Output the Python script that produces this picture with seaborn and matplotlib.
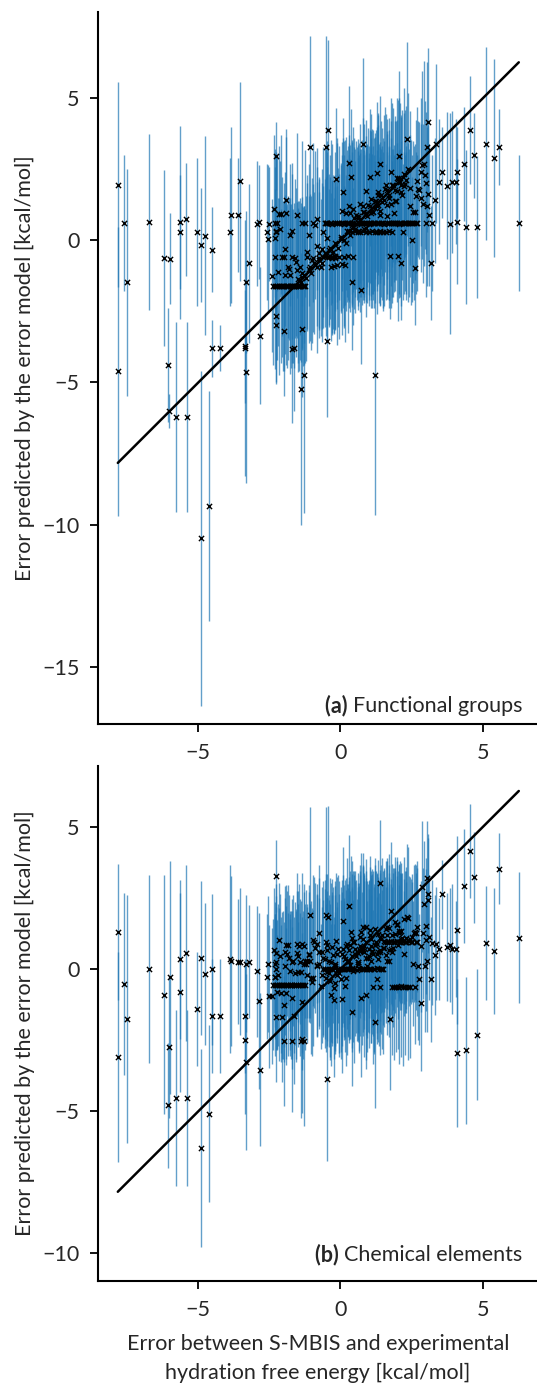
import numpy as np
import matplotlib
matplotlib.use("Agg")
import matplotlib.pyplot as plt
import seaborn as sns

sns.set_style("ticks")
plt.rcParams['font.family'] = ['Lato', 'DejaVu Sans']

# isolated molecules (shared x between both panels)
x_out = [-7.83, -7.83, -7.61, -7.52, -6.73, -6.20, -6.08, -6.02, -5.98, -5.78,
         -5.65, -5.65, -5.45, -5.39, -5.06, -4.90, -4.89, -4.77, -4.64, -4.52,
         -4.52, -4.22, -3.88, -3.84, -3.59, -3.55, -3.35, -3.35, -3.31, -3.31,
         -3.23, -2.95, -2.86, -2.83, -2.57, -2.55, -2.51, -2.28, -2.28, -2.28,
         -2.00, -1.71, -1.35, -1.29, -1.39, -1.65, -1.07, -0.51, -0.45, -0.46,
         -0.16, 0.10, 0.29, 0.36, 0.78, 0.73, 0.41, 0.88, 1.04, 1.23,
         1.30, 1.39, 1.78, 1.75, 2.01, 2.07, 2.13, 2.35, 2.50, 2.63,
         2.83, 2.85, 2.95, 3.05, 3.09, 3.07, 3.01, 3.17, 2.77, 3.36,
         3.32, 3.22, 3.48, 3.58, 3.73, 3.86, 3.92, 4.07, 4.10, 4.10,
         4.33, 4.40, 4.55, 4.69, 4.80, 5.12, 5.40, 5.59, 6.27]
ya_out = [1.96, -4.61, 0.61, -1.47, 0.65, -0.62, -4.38, -6.00, -0.65, -6.21,
          0.64, 0.29, 0.74, -6.21, 0.29, -10.49, -0.15, 0.16, -9.34, -0.33,
          -3.79, -3.79, 0.29, 0.90, 0.90, 2.09, -3.73, -3.79, -4.64, -1.45,
          -0.80, 0.59, 0.65, -3.35, 0.29, 0.06, 0.59, 2.98, -2.67, -2.98,
          -3.18, -3.82, -3.12, -4.75, -5.23, -3.79, 3.29, 3.29, 3.87, -3.53,
          2.15, 1.70, 2.74, 2.22, 3.41, -1.76, -1.45, 1.75, 2.22, -4.75,
          2.36, 2.68, 2.42, -0.56, -0.55, 2.98, -0.80, 3.57, 0.02, -0.96,
          2.40, 2.65, 2.70, 3.29, 4.18, 1.65, 2.02, -0.79, 1.76, 3.41,
          1.42, 0.61, 2.06, 2.40, 1.93, 0.59, 2.06, 2.06, 2.40, 0.65,
          2.70, 0.47, 3.90, 3.00, 0.47, 3.41, 2.90, 3.29, 0.61]
ea_out = [3.6, 5.1, 2.4, 4.0, 3.1, 3.1, 2.0, 0.6, 1.6, 3.35,
          3.4, 2.0, 2.0, 3.35, 2.6, 5.9, 2.0, 3.5, 4.05, 1.5,
          1.0, 0.8, 2.6, 3.1, 2.0, 3.5, 2.0, 4.5, 3.9, 2.5,
          2.8, 2.2, 2.0, 2.4, 2.4, 2.6, 2.0, 1.2, 2.4, 2.0,
          2.3, 2.6, 2.4, 4.85, 4.8, 2.2, 3.9, 3.9, 3.2, 2.7,
          2.5, 2.6, 2.7, 2.4, 3.0, 2.6, 2.4, 2.5, 2.4, 4.9,
          2.5, 2.4, 2.6, 2.2, 2.3, 3.0, 2.0, 3.4, 2.2, 2.0,
          2.6, 3.3, 3.6, 3.0, 2.6, 2.4, 2.5, 2.0, 2.4, 2.8,
          2.2, 2.4, 2.2, 1.6, 2.6, 3.9, 2.5, 2.2, 1.6, 2.2,
          2.0, 2.7, 1.9, 1.5, 2.5, 3.4, 3.5, 1.35, 2.4]
yb_out = [1.30, -3.10, -0.51, -1.75, 0.00, -0.90, -4.79, -2.73, -0.28, -4.52,
          -0.81, 0.35, 0.58, -4.52, -1.39, -6.29, 0.40, -0.16, -5.08, 0.00,
          -1.64, -1.64, 0.36, 0.29, 0.27, 0.27, -1.64, -2.50, -3.27, 0.20,
          0.27, -0.08, -1.13, -3.53, -0.26, 0.18, -0.96, 3.28, -1.68, 0.00,
          -2.53, -2.53, -2.45, -2.53, -2.53, -1.64, 1.90, 1.90, 1.85, -3.86,
          1.00, 1.71, 2.22, 1.30, 1.50, -1.00, -1.50, 1.49, 1.38, -1.87,
          0.90, 3.04, 2.06, -1.75, -0.62, 1.29, 1.08, 1.82, 1.14, -0.62,
          -1.19, 2.90, 2.31, 3.22, 2.66, 2.43, 1.52, -0.35, -0.35, 0.90,
          0.50, 0.93, 0.71, 2.63, 0.79, 0.85, 0.71, 0.71, 1.38, -2.94,
          2.92, -2.86, 4.16, 3.24, -2.30, 0.91, 0.64, 3.54, 1.11]
eb_out = [2.4, 3.7, 3.2, 4.35, 3.3, 4.2, 2.2, 2.5, 4.1, 3.1,
          3.5, 2.8, 3.1, 3.1, 2.0, 3.47, 2.7, 2.5, 3.1, 2.66,
          2.0, 2.0, 3.3, 3.0, 2.2, 2.6, 2.0, 2.6, 3.1, 2.4,
          2.0, 2.3, 3.1, 2.7, 2.2, 2.4, 2.5, 1.25, 2.3, 2.2,
          2.3, 2.5, 2.6, 3.0, 2.7, 2.4, 3.8, 3.8, 3.9, 2.9,
          2.4, 2.6, 2.5, 2.7, 2.6, 2.8, 2.6, 2.4, 2.6, 3.0,
          2.5, 2.2, 2.4, 2.5, 2.2, 2.4, 2.3, 2.6, 2.2, 2.0,
          2.4, 2.3, 2.2, 2.0, 2.1, 2.2, 2.4, 2.2, 2.3, 2.0,
          2.1, 2.2, 1.8, 1.2, 1.9, 2.0, 2.3, 1.7, 3.3, 2.6,
          2.0, 2.6, 1.66, 1.6, 2.3, 2.0, 2.2, 1.25, 2.3]

# dense central cloud
x_cl = [-2.30, -2.24, -2.17, -2.10, -2.04, -1.97, -1.90, -1.83, -1.76, -1.69, -1.62, -1.55, -1.48, -1.41, -1.33, -1.25,
        -0.55, -0.46, -0.38, -0.30, -0.21, -0.12, -0.04, 0.05, 0.14, 0.22, 0.31, 0.40, 0.48, 0.57, 0.66, 0.74, 0.83, 0.92,
        1.00, 1.09, 1.18, 1.27, 1.35, 1.44, 1.53, 1.62, 1.70, 1.79, 1.88, 1.97, 2.05, 2.14, 2.23, 2.32, 2.41, 2.52,
        0.30, 0.40, 0.50, 0.60, 0.70, 0.80, 0.90, 1.00, 1.10, 1.20, 1.30, 1.40, 1.50, 1.60, 1.70, 1.80,
        -0.62, -0.52, -0.42, -0.31, -0.19, -0.04, 0.12, 0.27, 0.45,
        -0.34, -0.24, -0.12, 0.05, 0.17,
        -1.48, -1.38, -1.30, -1.22, -1.12, -1.02, -0.92, -0.84, -0.74, -0.66, -0.56, -0.47, -0.38, -0.28, -0.18, -0.08,
        0.02, 0.12, 0.22, 0.32, 0.42, 0.52, 0.62, 0.72, 0.82, 0.92, 1.02, 1.12, 1.22, 1.32, 1.42, 1.52, 1.62, 1.72,
        1.82, 1.92, 2.02, 2.12, 2.22, 2.32,
        0.05, 0.18, 0.30, 0.45, 0.55, 0.68, 0.80, 0.95, 1.08, 1.20, 1.33, 1.45, 1.58, 1.70, 1.85, 1.98, 2.10, 2.25,
        0.62, 0.90, 1.15, 1.40, 1.65, 1.90,
        -2.34, -2.17, -2.09, -1.92, -1.90, -1.52, -2.24, -2.30, -2.28, -2.29, -2.27, -1.71, -1.35, -1.24, -0.96, -0.84,
        -2.42, -2.31, -2.00, -2.07, -1.83, -1.71, -1.42, -1.36, -1.19, -1.96, -1.76, -0.77, -1.54, -1.07, -0.66, -0.49,
        -0.31,
        1.80, 1.88, 1.96, 2.04, 2.12, 2.20, 2.28, 2.36, 2.44, 1.15, 1.39, 0.90, 1.27,
        2.55, 2.65, 2.72, 2.90, 3.00, 3.12, 2.60, 2.70, 2.97, 3.03,
        -1.18, -1.09, -1.01, -0.88, -0.81, -0.69, -0.62, -0.51, -0.39, -0.32, -0.19, -0.11, 0.01, 0.09, 0.21, 0.28,
        0.41, 0.49, 0.61, 0.68, 0.79, 0.91, 1.01, 1.08, 1.19, 1.31, 1.38, 1.51, 1.59, 1.71, 1.78, 1.91, 1.99, 2.11,
        2.18, 2.31, 2.39, 2.49, 2.61, 2.68,
        -0.95, -0.74, -0.46, -0.24, 0.16, 0.34, 0.66, 0.84, 1.06, 1.24, 1.46, 1.64, 1.86, 2.04, 2.26, 2.44, 2.66, 2.84,
        -1.61, -1.82,
        -2.38, -2.21, -2.13, -2.02, -1.94, -1.87, -1.79, -1.66, -1.58, -1.45, -1.37, -1.27, -2.26, -1.74, -1.50]
ya_cl = [-1.61, -1.60, -1.62, -1.60, -1.59, -1.61, -1.60, -1.62, -1.60, -1.61, -1.59, -1.60, -1.62, -1.60, -1.61, -1.60,
         0.61, 0.60, 0.62, 0.59, 0.61, 0.60, 0.62, 0.61, 0.59, 0.60, 0.62, 0.61, 0.60, 0.59, 0.61, 0.62, 0.60, 0.61,
         0.59, 0.60, 0.62, 0.61, 0.60, 0.61, 0.59, 0.62, 0.60, 0.61, 0.60, 0.62, 0.59, 0.61, 0.60, 0.62, 0.61, 0.60,
         0.32, 0.30, 0.33, 0.31, 0.29, 0.32, 0.31, 0.30, 0.33, 0.31, 0.30, 0.32, 0.31, 0.29, 0.32, 0.30,
         -0.57, -0.56, -0.58, -0.57, -0.56, -0.57, -0.58, -0.56, -0.57,
         -0.93, -0.90, -0.88, -0.83, -0.86,
         -1.35, -1.47, -1.20, -1.33, -1.02, -1.15, -0.80, -0.95, -0.68, -0.79, -0.45, -0.60, -0.28, -0.40, -0.10, -0.25,
         0.12, 0.00, 0.35, 0.18, 0.55, 0.40, 0.78, 0.62, 1.00, 0.85, 1.20, 1.02, 1.38, 1.25, 1.60, 1.42, 1.78, 1.60,
         1.95, 1.78, 2.15, 1.96, 2.35, 2.12,
         1.05, 0.95, 1.20, 1.10, 0.90, 1.30, 1.00, 1.25, 1.45, 1.15, 1.60, 1.35, 1.80, 1.50, 1.95, 1.75, 2.05, 1.90,
         0.85, 0.98, 1.00, 1.05, 1.25, 1.40,
         1.11, 0.92, 0.92, 1.42, 0.95, 0.88, 0.62, 0.61, 0.31, 0.08, 0.33, 0.33, 0.61, 0.60, 0.62, 0.76,
         -1.24, -0.59, -0.59, -0.57, -0.92, -0.57, -0.92, -1.16, -0.57, -1.20, -1.20, -0.45, -1.05, -0.95, -0.30, 0.62,
         -0.62,
         0.62, 0.95, 1.40, 0.60, 1.70, 0.30, 2.00, 0.62, 1.20, 0.62, 0.90, 0.45, 1.20,
         1.00, 1.55, 1.80, 1.30, 0.62, 0.90, 0.62, 0.62, 2.30, 1.20,
         -0.40, 0.20, -0.70, 0.55, -0.20, -0.95, 0.30, 0.62, -0.35, 0.62, -0.62, 0.62, 0.05, 0.62, -0.10, 0.62,
         0.62, 0.80, 0.35, 0.62, 1.20, 0.62, 0.62, 0.95, 0.62, 1.70, 0.30, 0.62, 1.95, 0.62, 1.30, 0.62, 2.20, 0.62,
         1.60, 0.62, 2.50, 0.62, 1.00, 2.10,
         -0.62, -0.62, 0.10, -0.55, 0.62, 0.95, 0.62, 0.40, 0.62, 1.40, 0.62, 0.85, 0.62, 2.20, 0.62, 1.85, 0.62, 1.50,
         -0.62, -1.00,
         -1.60, -1.10, 0.40, -1.60, -0.30, -1.60, 0.20, -1.60, -0.75, -1.60, -1.30, -1.60, -1.60, -1.60, -1.60]
ea_cl = [2.9, 2.6, 3.1, 2.7, 2.5, 3.0, 2.8, 2.6, 3.1, 2.7, 2.9, 2.5, 3.0, 2.6, 2.8, 2.7,
         2.6, 2.9, 2.4, 2.8, 2.5, 3.0, 2.7, 2.4, 2.9, 2.6, 2.8, 2.5, 3.0, 2.7, 2.4, 2.9, 2.6, 2.8,
         2.5, 2.7, 3.0, 2.4, 2.8, 2.6, 2.9, 2.5, 2.7, 3.0, 2.4, 2.8, 2.6, 2.9, 2.5, 2.7, 2.6, 2.4,
         2.7, 2.5, 2.9, 2.6, 2.8, 2.4, 3.0, 2.6, 2.7, 2.5, 2.9, 2.6, 2.8, 2.4, 2.7, 2.5,
         2.5, 2.8, 2.4, 2.7, 2.6, 2.9, 2.5, 2.7, 2.4,
         2.6, 2.4, 2.8, 2.5, 2.7,
         2.5, 2.8, 2.4, 2.9, 2.6, 2.7, 2.5, 3.0, 2.4, 2.8, 2.6, 2.9, 2.5, 2.7, 2.4, 2.8,
         2.6, 3.0, 2.5, 2.7, 2.9, 2.4, 2.8, 2.6, 3.1, 2.5, 2.7, 2.9, 2.4, 2.8, 2.6, 3.0, 2.5, 2.7,
         2.9, 2.6, 2.8, 2.4, 3.0, 2.6,
         2.4, 2.7, 2.5, 2.9, 2.6, 2.8, 2.4, 2.7, 3.0, 2.5, 2.8, 2.6, 2.9, 2.4, 2.7, 2.5, 2.8, 2.6,
         2.5, 2.7, 2.9, 2.4, 2.6, 2.8,
         2.6, 2.4, 2.8, 2.5, 2.7, 2.9, 2.4, 2.6, 2.8, 2.5, 2.7, 2.4, 2.9, 2.6, 2.8, 2.5,
         2.7, 2.4, 2.6, 2.8, 2.5, 2.9, 2.4, 2.7, 2.6, 2.8, 2.5, 2.7, 2.4, 2.6, 2.8, 2.5,
         2.7,
         2.6, 2.4, 2.8, 2.5, 2.7, 2.4, 2.6, 2.8, 2.5, 2.7, 2.4, 2.6, 2.8,
         2.5, 2.7, 2.4, 2.8, 2.6, 2.5, 2.7, 2.4, 2.6, 2.8,
         2.7, 2.5, 2.9, 2.6, 2.8, 2.4, 3.0, 2.6, 2.7, 2.9, 2.5, 2.8, 2.6, 3.0, 2.4, 2.7,
         2.9, 2.5, 2.8, 2.6, 3.1, 2.5, 2.7, 2.9, 2.4, 2.8, 2.6, 3.0, 2.5, 2.7, 2.9, 2.4, 2.8, 2.6,
         3.0, 2.5, 2.7, 2.9, 2.4, 2.6,
         2.6, 2.8, 2.5, 2.7, 2.9, 2.4, 2.8, 2.6, 3.0, 2.5, 2.7, 2.9, 2.6, 2.8, 2.4, 2.7, 2.5, 2.6,
         2.8, 2.5,
         2.8, 2.6, 2.4, 3.0, 2.7, 2.9, 2.5, 2.7, 2.6, 3.0, 2.5, 2.8, 2.6, 2.9, 2.7]
yb_cl = [-0.55, -0.56, -0.54, -0.55, -0.57, -0.55, -0.56, -0.54, -0.55, -0.56, -0.55, -0.57, -0.55, -0.54, -0.56, -0.55,
         0.02, -0.01, 0.01, 0.00, 0.03, -0.02, 0.01, 0.00, 0.02, -0.01, 0.01, 0.03, 0.00, -0.02, 0.01, 0.02, 0.00, -0.01,
         0.02, 0.01, 0.00, 0.03, -0.01, 0.01, 0.98, 0.96, 0.97, 0.99, 0.96, 0.98, 0.97, 0.95, 0.98, 0.97, 0.99, 0.96,
         0.66, 0.45, 0.72, 0.58, 0.80, 0.64, 0.40, 0.70, 0.62, 0.85, 0.55, 0.68, 0.75, 0.50, 0.66, 0.60,
         0.02, -0.30, 0.30, 0.00, 0.10, -0.15, 0.00, 0.25, -0.05,
         -0.90, -1.10, -0.20, -1.05, -0.60,
         0.45, -0.10, 0.80, 0.20, 0.55, -0.30, 0.95, 0.15, 0.60, -0.20, 0.35, 0.85, -0.40, 0.50, 0.20, 0.70,
         -0.35, 0.45, 0.90, 0.15, 1.10, 0.55, 0.25, 1.30, 0.80, 0.10, 1.20, 0.65, 1.40, 0.35, 1.05, 0.75, 1.50, 0.30,
         1.20, 1.65, 0.85, 1.35, 0.55, 1.10,
         0.55, 0.80, 0.30, 0.95, 0.45, 1.15, 0.70, 0.40, 1.05, 0.85, 0.60, 1.20, 0.95, 1.45, 0.75, 1.55, 1.30, 1.75,
         0.20, 0.95, 0.55, 1.10, 0.30, 1.25,
         0.67, 1.04, -0.85, 0.85, -0.85, 0.87, -0.79, 0.18, 0.58, -0.26, 0.26, 0.26, 0.90, 0.30, 1.02, 0.90,
         -0.95, -0.26, -1.26, -1.67, 0.85, -1.02, 0.26, -1.14, 0.30, 0.61, -0.06, 1.26, 0.56, 0.30, 0.60, 0.66,
         0.78,
         -0.62, -0.61, -0.63, -0.62, -0.60, -0.62, -0.63, -0.61, -0.62, -0.62, -0.62, -0.92, -0.34,
         0.20, 1.26, 0.10, 1.26, 1.03, 1.12, 1.26, 0.96, 0.10, 0.30,
         -0.20, 0.50, -0.45, 0.75, 0.10, -0.60, 0.40, 0.95, -0.15, 0.25, -0.50, 0.55, 0.00, 0.70, -0.30, 0.30,
         0.00, 0.95, 0.25, 0.65, 1.05, 0.00, 0.45, 0.80, 0.00, 1.25, 0.60, 0.00, 1.40, 0.95, 0.70, 0.97, 1.60, 0.97,
         1.10, 0.97, 1.80, 0.97, 1.30, 1.50,
         -0.30, 0.20, -0.10, -0.65, 0.35, 0.85, 0.05, 0.60, 0.30, 0.95, 0.00, 1.20, 0.97, 1.35, 0.97, 1.05, 0.97, 0.80,
         -0.15, 0.40,
         -0.55, -0.20, 0.45, -0.55, 0.10, 0.55, -0.55, 0.30, -0.55, 0.80, -0.55, 0.20, -0.55, -0.55, -0.10]
eb_cl = [2.5, 2.3, 2.7, 2.4, 2.6, 2.2, 2.8, 2.5, 2.3, 2.6, 2.4, 2.7, 2.2, 2.5, 2.6, 2.3,
         2.8, 2.5, 3.2, 2.6, 2.9, 2.4, 3.1, 2.7, 2.5, 3.0, 2.6, 2.8, 3.3, 2.5, 2.9, 2.7, 3.1, 2.4,
         2.8, 2.6, 3.0, 2.5, 2.7, 2.3, 2.5, 2.1, 2.4, 2.2, 2.6, 2.3, 2.0, 2.4, 2.2, 2.5, 2.3, 2.1,
         2.6, 2.9, 2.4, 2.8, 2.5, 3.0, 2.7, 2.4, 2.9, 2.6, 2.8, 2.5, 2.7, 2.4, 2.6, 2.3,
         2.4, 2.6, 2.3, 2.7, 2.5, 2.8, 2.4, 2.6, 2.5,
         2.5, 2.7, 2.4, 2.6, 2.3,
         2.3, 2.5, 2.2, 2.6, 2.4, 2.7, 2.3, 2.5, 2.6, 2.4, 2.8, 2.5, 2.7, 2.4, 2.9, 2.6,
         2.8, 2.5, 3.0, 2.6, 2.7, 2.9, 2.5, 2.8, 2.6, 3.0, 2.4, 2.7, 2.5, 2.9, 2.6, 2.8, 2.4, 2.7,
         2.5, 2.3, 2.6, 2.4, 2.2, 2.5,
         2.6, 2.4, 2.8, 2.5, 2.7, 2.3, 2.9, 2.6, 2.4, 2.8, 2.5, 2.7, 2.3, 2.6, 2.8, 2.4, 2.5, 2.2,
         2.7, 2.5, 2.9, 2.4, 2.6, 2.3,
         2.2, 2.0, 2.4, 2.1, 2.3, 2.5, 2.0, 2.2, 2.4, 2.1, 2.3, 2.2, 2.5, 2.0, 2.3, 2.1,
         2.4, 2.2, 2.0, 2.3, 2.1, 2.5, 2.2, 2.4, 2.0, 2.3, 2.1, 2.4, 2.2, 2.0, 2.3, 2.1,
         2.4,
         2.4, 2.6, 2.3, 2.7, 2.5, 2.8, 2.4, 2.6, 2.5, 2.7, 2.4, 2.6, 2.3,
         2.2, 2.4, 2.6, 2.3, 2.5, 2.2, 2.4, 2.6, 2.3, 2.5,
         2.4, 2.2, 2.6, 2.3, 2.5, 2.2, 2.7, 2.4, 2.6, 2.8, 2.5, 2.7, 2.9, 2.6, 3.1, 2.7,
         2.9, 2.5, 2.8, 3.0, 2.6, 3.2, 2.7, 2.5, 2.9, 2.6, 2.8, 3.0, 2.4, 2.7, 2.3, 2.5, 2.2, 2.4,
         2.3, 2.1, 2.5, 2.2, 2.4, 2.3,
         2.4, 2.3, 2.6, 2.5, 2.8, 2.6, 3.0, 2.7, 2.9, 2.5, 2.8, 2.6, 2.4, 2.3, 2.5, 2.2, 2.4, 2.3,
         2.5, 2.2,
         2.3, 2.5, 2.2, 2.6, 2.4, 2.2, 2.5, 2.3, 2.6, 2.2, 2.4, 2.5, 2.3, 2.6, 2.4]

x = np.array(x_out + x_cl)
ya = np.array(ya_out + ya_cl)
ea = np.array(ea_out + ea_cl)
yb = np.array(yb_out + yb_cl)
eb = np.array(eb_out + eb_cl)

FS = 15.5
panels = [(ya, ea, "(a)", "Functional groups", (-17.03, 8.03), 0.017),
          (yb, eb, "(b)", "Chemical elements", (-10.97, 7.15), 0.039)]
boxes = [[0.1834, 0.4763, 0.8166, 0.5148], [0.1834, 0.07375, 0.8166, 0.3724]]

fig = plt.figure(figsize=(5.37, 13.83), dpi=100)
lo, hi = x.min(), x.max()
for (y, e, tag, name, ylim, ty), box in zip(panels, boxes):
    ax = fig.add_axes(box)
    ax.errorbar(x, y, yerr=e, fmt='none', ecolor='#1f77b4', elinewidth=1.0,
                alpha=0.7, zorder=1)
    ax.plot([lo, hi], [lo, hi], color='black', lw=1.8, zorder=2)
    sns.scatterplot(x=x, y=y, marker='x', color='black', s=14, linewidth=1.0,
                    ax=ax, zorder=3)
    ax.set_xlim(-8.51, 6.91)
    ax.set_ylim(*ylim)
    ax.set_xticks([-5, 0, 5])
    ax.set_yticks([t for t in [5, 0, -5, -10, -15] if t > ylim[0]])
    ax.tick_params(labelsize=FS, length=6, width=1.3, pad=7.5, color='black')
    for s in ['left', 'bottom']:
        ax.spines[s].set_linewidth(1.5)
        ax.spines[s].set_color('black')
    sns.despine(ax=ax)
    ax.set_ylabel("Error predicted by the error model [kcal/mol]", fontsize=FS)
    ax.yaxis.set_label_coords(-0.145, 0.5)
    t1 = ax.annotate(name, xy=(0.966, ty), xycoords='axes fraction',
                     ha='right', va='baseline', fontsize=FS)
    ax.annotate(tag + " ", xy=(0, 0), xycoords=t1, ha='right', va='bottom',
                fontsize=FS, fontweight='bold')

ax.set_xlabel("Error between S-MBIS and experimental\nhydration free energy [kcal/mol]",
              fontsize=FS, linespacing=1.55, labelpad=10)

fig.savefig("out.png", dpi=100)
